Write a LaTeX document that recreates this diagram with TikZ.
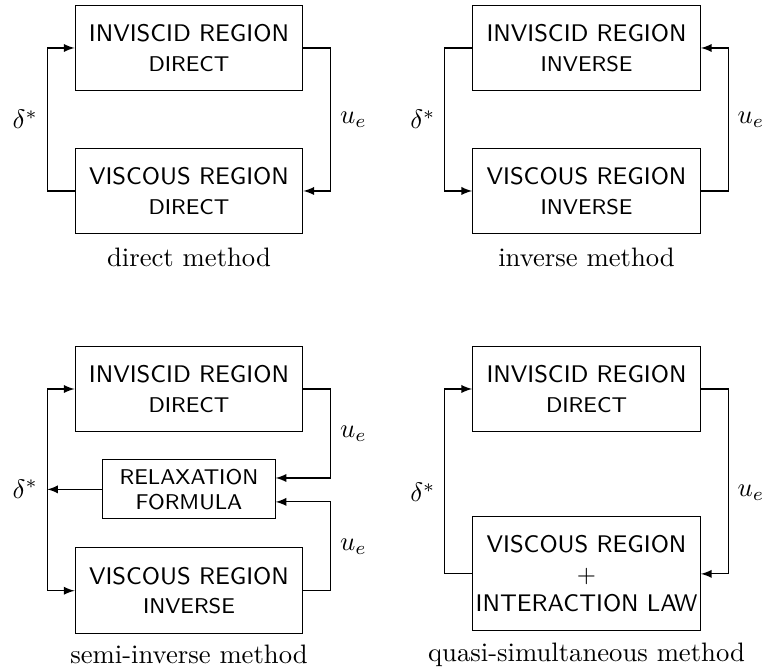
\documentclass[tikz,border=0pt]{standalone}
\usepackage{amsmath,amssymb}
\usepackage{tikz}
\usetikzlibrary{positioning,calc}

\begin{document}
\begin{tikzpicture}[>=latex,
  region/.style={draw,minimum width=3cm,minimum height=1.13cm,align=center,font=\small\sffamily},
  formula/.style={draw,minimum width=2.27cm,minimum height=0.75cm,align=center,font=\footnotesize\sffamily},
  lbl/.style={font=\normalsize},
  methodname/.style={font=\normalsize,inner sep=1pt}]
  \useasboundingbox (0,0) rectangle (10.066,-8.789);
  % direct method
  \node[region] (inv1) at (2.49,-0.632) {INVISCID REGION\\{\footnotesize DIRECT}};
  \node[region] (vis1) [below=0.74cm of inv1] {VISCOUS REGION\\{\footnotesize DIRECT}};
  \node[methodname] (c1) [below=4pt of vis1] {direct method};
  \draw[->] (vis1.west) -- ++(-0.36,0) |- (inv1.west) node[lbl,left,pos=0.25] (d1) {$\delta^*$};
  \draw[->] (inv1.east) -- ++(0.36,0) |- (vis1.east) node[lbl,right,pos=0.25] (u1) {$u_e$};
  % inverse method
  \node[region] (inv2) at (7.728,-0.632) {INVISCID REGION\\{\footnotesize INVERSE}};
  \node[region] (vis2) [below=0.74cm of inv2] {VISCOUS REGION\\{\footnotesize INVERSE}};
  \node[methodname] (c2) [below=4pt of vis2] {inverse method};
  \draw[->] (inv2.west) -- ++(-0.36,0) |- (vis2.west) node[lbl,left,pos=0.25] (d2) {$\delta^*$};
  \draw[->] (vis2.east) -- ++(0.36,0) |- (inv2.east) node[lbl,right,pos=0.25] (u2) {$u_e$};
  % semi-inverse method
  \node[region] (inv3) at (2.49,-5.125) {INVISCID REGION\\{\footnotesize DIRECT}};
  \node[formula] (relax) [below=0.356cm of inv3] {RELAXATION\\FORMULA};
  \node[region] (vis3) [below=0.369cm of relax] {VISCOUS REGION\\{\footnotesize INVERSE}};
  \node[methodname] (c3) [below=3pt of vis3] {semi-inverse method};
  \coordinate (j3) at ([xshift=-0.36cm]inv3.west |- relax.west);
  \draw[->] (relax.west) -- (j3);
  \draw[->] (j3) |- (inv3.west);
  \draw[->] (j3) |- (vis3.west);
  \node[lbl,left] (d3) at (j3) {$\delta^*$};
  \draw[->] (inv3.east) -- ++(0.36,0) |- ([yshift=0.15cm]relax.east) node[lbl,right,pos=0.25] (u3) {$u_e$};
  \draw[->] (vis3.east) -- ++(0.36,0) |- ([yshift=-0.165cm]relax.east) node[lbl,right,pos=0.25] (u3b) {$u_e$};
  % quasi-simultaneous method
  \node[region] (inv4) at (7.728,-5.125) {INVISCID REGION\\{\footnotesize DIRECT}};
  \node[region,minimum height=1.5cm,inner xsep=1pt] (vis4) [below=1.107cm of inv4] {VISCOUS REGION\\$+$\\INTERACTION LAW};
  \node[methodname] (c4) [below=3pt of vis4] {quasi-simultaneous method};
  \draw[->] (vis4.west) -- ++(-0.36,0) |- (inv4.west) node[lbl,left,pos=0.22] (d4) {$\delta^*$};
  \draw[->] (inv4.east) -- ++(0.36,0) |- (vis4.east) node[lbl,right,pos=0.28] (u4) {$u_e$};
\end{tikzpicture}
\end{document}
